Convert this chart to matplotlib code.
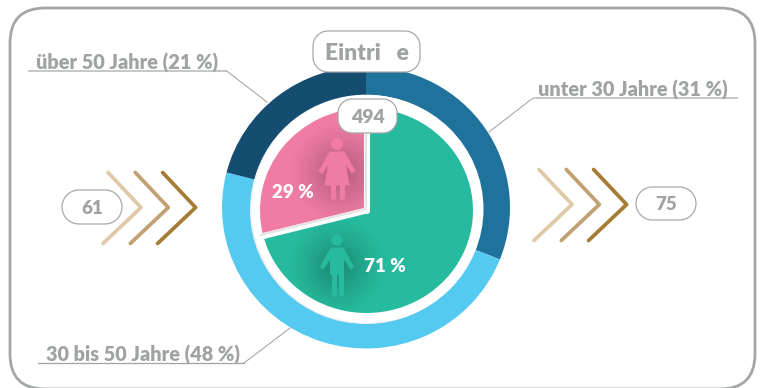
import matplotlib
matplotlib.use('Agg')
import matplotlib.pyplot as plt
import numpy as np
from matplotlib.patches import Circle, Ellipse, FancyBboxPatch, Polygon
from matplotlib.transforms import Affine2D

plt.rcParams['font.family'] = ['Lato', 'DejaVu Sans']

# data
age_labels = ['unter 30 Jahre (31 %)', '30 bis 50 Jahre (48 %)', 'über 50 Jahre (21 %)']
age_values = [31, 48, 21]
age_colors = ['#1f729b', '#55caf0', '#154d70']
gender_values = [71, 29]
gender_labels = ['71 %', '29 %']
gender_colors = ['#26bb9e', '#f07ca6']
title = 'Eintri   e'
total = '494'
left_value = '61'
right_value = '75'

GREY = '#a0a3a3'
W, H = 762, 388
pie_x, pie_y = 366.5, 210.5


def pill(x0, y0, x1, y1, r, text, size):
	# outline from four true quarter circles, y runs downwards
	pts = []
	corners = [(x1 - r, y1 - r, 0), (x0 + r, y1 - r, 90), (x0 + r, y0 + r, 180), (x1 - r, y0 + r, 270)]
	for px, py, start in corners:
		t = np.radians(np.linspace(start, start + 90, 16))
		pts.extend(zip(px + r * np.cos(t), py + r * np.sin(t)))
	ax.add_patch(Polygon(pts, closed=True, fc='white', ec='#a6a8a8', lw=0.9, zorder=10))
	ax.text((x0 + x1) / 2, (y0 + y1) / 2, text, ha='center', va='center_baseline',
	        fontsize=size, fontweight='heavy', color=GREY, zorder=11)


def chevrons(x, y):
	cols = ['#dfc9a8', '#c1a073', '#a57c33']
	for i, c in enumerate(cols):
		xx = x + i * 27.3
		ax.plot([xx + 3, xx + 36, xx - 2], [y - 35, y, y + 36], color=c,
		        lw=2.7, solid_capstyle='round', solid_joinstyle='round', zorder=3)


def glow(x, y, radius, clip, strength):
	# dark halo behind the person icons
	n = 200
	gx, gy = np.meshgrid(np.linspace(-1, 1, n), np.linspace(-1, 1, n))
	d = np.clip(np.sqrt(gx ** 2 + gy ** 2), 0, 1)
	rgba = np.zeros((n, n, 4))
	rgba[..., 3] = strength * (1 - d) ** 1.2
	im = ax.imshow(rgba, extent=[x - radius, x + radius, y + radius, y - radius],
	               zorder=4, interpolation='bilinear')
	im.set_clip_path(clip)


fig = plt.figure(figsize=(W / 100, H / 100), dpi=100)
ax = fig.add_axes([0, 0, 1, 1])

# y runs downwards, so growing angles go clockwise; the rings are slightly squashed
ring_tf = Affine2D().scale(144, 141).translate(366, 207.5) + ax.transData
ring, _ = ax.pie(age_values, colors=age_colors, startangle=-90, radius=1,
                 wedgeprops={'width': 0.2, 'linewidth': 0}, frame=True)
for w in ring:
	w.set_transform(ring_tf)

ax.add_patch(Ellipse((366, 210), 232, 228, fc='#f0f0f0', ec='none', zorder=2))
ax.add_patch(Ellipse((367.5, 209), 232, 228, fc='white', ec='none', zorder=2))

# inner pie
pie_tf = Affine2D().scale(106.5, 102.5).translate(pie_x, pie_y) + ax.transData
wedges, _ = ax.pie(gender_values, colors=gender_colors, startangle=-90, radius=1,
                   wedgeprops={'linewidth': 0}, frame=True)
for w in wedges:
	w.set_transform(pie_tf)
	w.set_zorder(3)

ax.set_xlim(0, W)
ax.set_ylim(H, 0)
ax.set_aspect('auto')
ax.axis('off')

# separators between the two slices
cuts = np.cumsum([0] + gender_values[:1]) * 3.6 - 90
for a in cuts:
	dx, dy = np.cos(np.radians(a)) * 108, np.sin(np.radians(a)) * 104
	ax.plot([pie_x, pie_x + dx], [pie_y, pie_y + dy], color='white', lw=4.4,
	        solid_capstyle='round', zorder=5)
	ax.plot([pie_x - 1, pie_x - 1 + dx], [pie_y - 1.5, pie_y - 1.5 + dy], color='#e4e4e4',
	        lw=1.6, solid_capstyle='round', zorder=5)

glow(340, 172, 52, wedges[1], 0.27)
glow(337, 266, 50, wedges[0], 0.28)

# woman
pink = gender_colors[1]
ax.add_patch(Circle((337, 144), 6, fc=pink, ec='none', zorder=6))
ax.add_patch(Polygon([[330, 152], [344, 152], [355, 171], [352, 173], [345, 163],
                      [349, 185], [325, 185], [329, 163], [322, 173], [319, 171]],
                     closed=True, fc=pink, ec=pink, lw=0.8, joinstyle='round', zorder=6))
ax.plot([333, 333], [185, 197], color=pink, lw=3.6, solid_capstyle='round', zorder=6)
ax.plot([341.5, 341.5], [185, 197], color=pink, lw=3.6, solid_capstyle='round', zorder=6)

# man
teal = gender_colors[0]
ax.add_patch(Circle((337, 240), 5.8, fc=teal, ec='none', zorder=6))
ax.add_patch(Polygon([[331, 248], [343, 248], [353.5, 267], [351, 269], [343.5, 258],
                      [343.5, 274], [330.5, 274], [330.5, 258], [323, 269], [320.5, 267]],
                     closed=True, fc=teal, ec=teal, lw=0.8, joinstyle='round', zorder=6))
ax.plot([333.5, 333.5], [272, 293.5], color=teal, lw=3.7, solid_capstyle='round', zorder=6)
ax.plot([340.5, 340.5], [272, 293.5], color=teal, lw=3.7, solid_capstyle='round', zorder=6)

ax.text(292.5, 193, gender_labels[1], ha='center', va='center', fontsize=13.5,
        fontweight='heavy', color='white', zorder=7)
ax.text(385, 266, gender_labels[0], ha='center', va='center', fontsize=13.5,
        fontweight='heavy', color='white', zorder=7)

# leader lines and labels
ax.plot([538, 737], [98, 98], color='#c4c7c7', lw=1.4, zorder=1)
ax.plot([489, 533, 538], [132, 98, 98], color='#a8a8a8', lw=0.8, zorder=1)
ax.plot([29, 226], [70.5, 70.5], color='#c4c7c7', lw=1.4, zorder=1)
ax.plot([226, 267], [70.5, 102], color='#a8a8a8', lw=0.8, zorder=1)
ax.plot([38, 244], [363, 363], color='#a0a3a3', lw=0.9, zorder=1)
ax.plot([244, 290], [363, 328], color='#a8a8a8', lw=0.8, zorder=1)

ax.text(633, 90, age_labels[0], ha='center', va='center', fontsize=14.3,
        fontweight='heavy', color=GREY)
ax.text(143, 354.5, age_labels[1], ha='center', va='center', fontsize=14.3,
        fontweight='heavy', color=GREY)
ax.text(127, 62.5, age_labels[2], ha='center', va='center', fontsize=14.3,
        fontweight='heavy', color=GREY)

chevrons(105, 207.5)
chevrons(536, 204.5)

pill(62, 190, 122, 224, 17, left_value, 13.5)
pill(636, 187, 696, 220, 16.5, right_value, 13.5)
pill(338, 99, 397, 133, 14, total, 14)
pill(313, 31, 420, 72, 15, title, 16.5)

# outer frame, bottom edge runs off the picture
ax.add_patch(FancyBboxPatch((45, 43), 675, 311, boxstyle='round,pad=35,rounding_size=35',
                            fc='none', ec='#a2a6a6', lw=2, zorder=0, clip_on=True))

fig.savefig('out.png', dpi=100)
